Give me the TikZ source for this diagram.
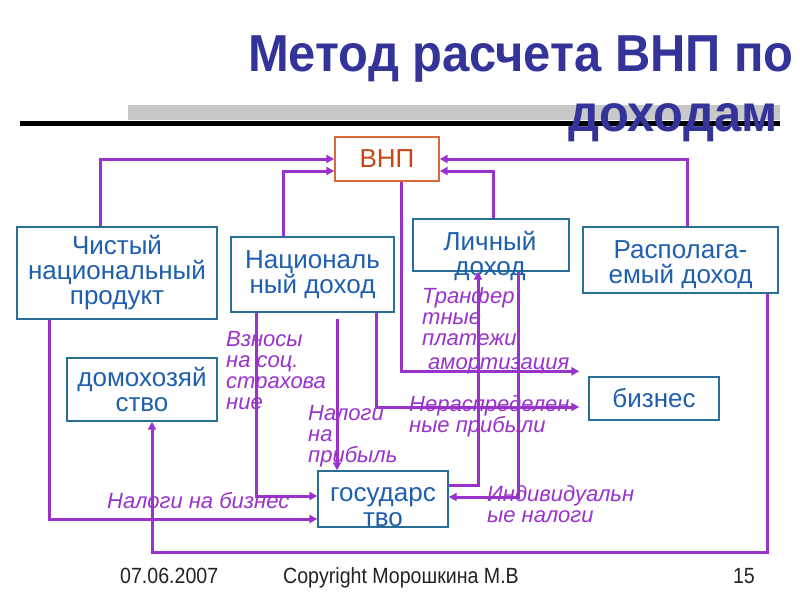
\documentclass[tikz,border=0pt]{standalone}
\usepackage{fontspec}
\setmainfont{Liberation Sans}
\newfontfamily\titlefont[FakeStretch=0.94]{Liberation Sans}
\newfontfamily\footfont[FakeStretch=0.89]{Liberation Sans}
\usetikzlibrary{arrows.meta,calc}
\definecolor{purp}{RGB}{153,51,204}
\definecolor{boxline}{RGB}{40,110,150}
\definecolor{boxtext}{RGB}{30,95,175}
\definecolor{vnpline}{RGB}{215,105,60}
\definecolor{vnptext}{RGB}{200,70,20}
\definecolor{titleblue}{RGB}{51,51,153}
\definecolor{graybar}{RGB}{200,200,200}
\definecolor{foottext}{RGB}{34,34,34}
\begin{document}
\begin{tikzpicture}[x=1pt,y=-1pt,
  box/.style={draw=boxline,line width=1.4pt,text=boxtext,font=\fontsize{26}{25}\selectfont,align=center,inner sep=0pt},
  boxtxt/.style={text=boxtext,font=\fontsize{26}{25}\selectfont,align=center,inner sep=0pt},
  conn/.style={draw=purp,line width=3pt,-{Triangle[length=8pt,width=8pt]}},
  lab/.style={text=purp,font=\fontsize{22}{21}\selectfont\itshape,align=left,inner sep=0pt},
  titlest/.style={text=titleblue,font=\titlefont\bfseries\fontsize{52}{58}\selectfont,inner sep=0pt},
  foot/.style={text=foottext,font=\footfont\fontsize{22}{24}\selectfont,inner sep=0pt},
]
\useasboundingbox (0,0) rectangle (800,600);
\fill[white] (0,0) rectangle (800,600);

% title bars
\fill[graybar] (128,105) rectangle (780,120);
\draw[line width=5pt] (20,123.5) -- (780,123.5);
\node[titlest,anchor=base west] (t1) at (248,71) {Метод расчета ВНП по};
\node[titlest,anchor=base west] (t2) at (568,131) {доходам};

% boxes
\node[box,draw=vnpline,text=vnptext,minimum width=104pt,minimum height=44pt] (vnp) at (387,159) {ВНП};
\node[box,minimum width=200pt,minimum height=92pt] (chnp) at (117,273) {Чистый\\национальный\\продукт};
\node[box,minimum width=163pt,minimum height=75pt] (nd) at (312.5,274.5) {Националь\\ный доход};
\node[box,minimum width=156pt,minimum height=52pt] (lich) at (491,245) {};
\node[boxtxt] (lichtxt) at (490,256) {Личный\\доход};
\node[box,minimum width=195pt,minimum height=66pt] (rasp) at (680.5,260) {};
\node[boxtxt] (rasptxt) at (680.5,265) {Располага-\\емый доход};
\node[box,minimum width=150pt,minimum height=63pt] (domo) at (142,389.5) {домохозяй\\ство};
\node[box,minimum width=130pt,minimum height=56pt] (gos) at (383,499) {};
\node[boxtxt] (gostxt) at (383,507) {государс\\тво};
\node[box,minimum width=130pt,minimum height=43pt] (biz) at (654,398.5) {бизнес};

% labels
\node[lab,anchor=north west] (l1) at (226,331) {Взносы\\на соц.\\страхова\\ние};
\node[lab,anchor=north west] (l2) at (308,405) {Налоги\\на\\прибыль};
\node[lab,anchor=base west] (l3) at (107,508) {Налоги на бизнес};
\node[lab,anchor=north west] (l4) at (422,287) {Транфер\\тные\\платежи};
\node[lab,anchor=base west] (l5) at (428,369) {амортизация};
\node[lab,anchor=north west] (l6) at (409,395) {Нераспределен\\ные прибыли};
\node[lab,anchor=north west] (l7) at (487,485) {Индивидуальн\\ые налоги};

% connectors
\coordinate (npstart) at (337,319);
\coordinate (amend) at ($(biz.north west)+(-9,-5)$);
\coordinate (nrend) at ($(biz.west)+(-9,8.5)$);

\draw[conn] ([xshift=-17pt]chnp.north) |- (vnp.west);
\draw[conn] ([xshift=-29.5pt]nd.north) |- ([yshift=-12pt]vnp.west);
\draw[conn] ([xshift=6.5pt]rasp.north) |- (vnp.east);
\draw[conn] ([xshift=2pt]lich.north) |- ([yshift=-12pt]vnp.east);
\draw[conn] ([xshift=14pt]vnp.south) |- (amend);
\draw[conn] ([xshift=-56.5pt]nd.south) |- ([yshift=3pt]gos.west);
\draw[conn] (npstart) -- ([xshift=-46pt]gos.north);
\draw[conn] ([xshift=63.5pt]nd.south) |- (nrend);
\draw[conn] ([xshift=-68pt]chnp.south) |- ([yshift=-20pt]gos.west);
\draw[conn] ([xshift=86.5pt]rasp.south) -- ++(0,259) -| ([xshift=10pt]domo.south);
\draw[conn] ([yshift=14pt]gos.east) -| ([xshift=-13pt]lich.south);
\draw[conn] ([xshift=27pt]lich.south) |- ([yshift=2pt]gos.east);

% footer
\node[foot,anchor=base west] (f1) at (120,583) {07.06.2007};
\node[foot,anchor=base west] (f2) at (283,583) {Copyright Морошкина М.В};
\node[foot,anchor=base east] (f3) at (755,583) {15};
\end{tikzpicture}
\end{document}
